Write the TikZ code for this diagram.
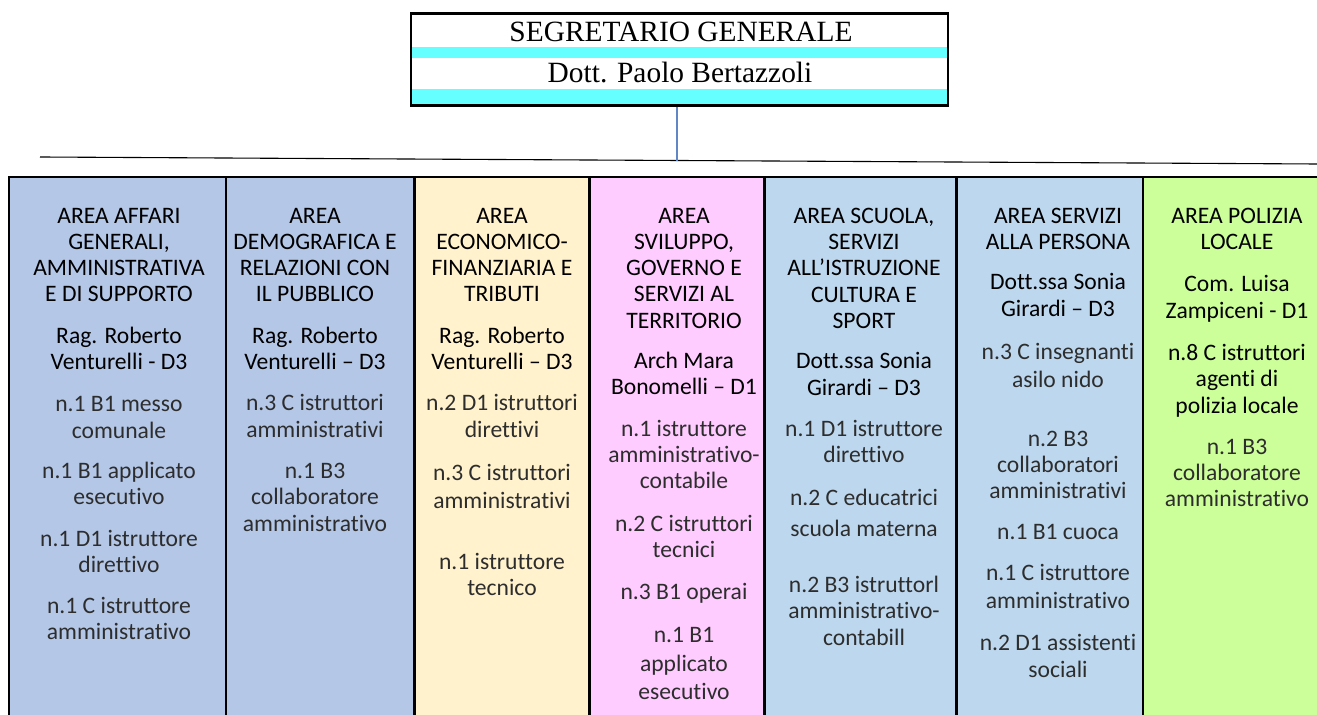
\documentclass[tikz,border=0pt]{standalone}
\usepackage{fontspec}
\setmainfont{Carlito}[RawFeature={-liga;-calt;-clig}]
\newfontfamily\timesfont{Liberation Serif}
\usepackage{xcolor}
\usetikzlibrary{positioning}

\definecolor{bluearea}{RGB}{180,199,231}
\definecolor{skyarea}{RGB}{189,215,238}
\definecolor{creamarea}{RGB}{255,242,204}
\definecolor{pinkarea}{RGB}{255,204,255}
\definecolor{limearea}{RGB}{204,255,153}
\definecolor{cyanband}{RGB}{102,255,255}
\definecolor{linkblue}{RGB}{96,134,200}
\definecolor{staffgray}{RGB}{45,45,45}

\newcommand\pers[1]{\textcolor{staffgray}{#1}}

\begin{document}
\begin{tikzpicture}
  [
    x=0.5pt, y=-0.5pt,
    area/.style={draw=black,line width=1.25pt,inner sep=0pt,outer sep=0pt,minimum height=280pt},
    arealabel/.style={anchor=north,align=center,inner sep=0pt,font=\fontsize{11.8}{13.15}\selectfont},
    topbox/.style={draw=black,line width=1.3pt,inner sep=0pt,minimum width=268.5pt,minimum height=46pt},
    toptext/.style={inner sep=0pt,font=\timesfont\fontsize{14.7}{16}\selectfont},
    link/.style={draw=linkblue,line width=0.55pt}
  ]
  \useasboundingbox (0,0) rectangle (1317,715);
  \fill[white] (0,0) rectangle (1317,715);

  % segretario generale
  \fill[cyanband] (412,47.5) rectangle (947,58);
  \fill[cyanband] (412,89) rectangle (947,104);
  \node[topbox] (sg) at (679.5,59.5) {};
  \node[toptext] (sgtitle) at (681,32) {SEGRETARIO GENERALE};
  \node[toptext] (sgname) at (680,73) {Dott. Paolo Bertazzoli};

  \coordinate (rulel) at (40,157);
  \coordinate (ruler) at (1317,164);
  \coordinate (join) at (677,161);
  \draw[line width=0.55pt] (rulel) -- (ruler);
  \draw[link] (sg.south -| join) -- (join);

  % aree
  \node[area,fill=bluearea,minimum width=108.5pt,anchor=north west] (a1) at (9,177) {};
  \node[area,fill=bluearea,minimum width=94.25pt,right=0pt of a1] (a2) {};
  \node[area,fill=creamarea,minimum width=87.5pt,right=0pt of a2] (a3) {};
  \node[area,fill=pinkarea,minimum width=87.5pt,right=0pt of a3] (a4) {};
  \node[area,fill=skyarea,minimum width=96pt,right=0pt of a4] (a5) {};
  \node[area,fill=skyarea,minimum width=93.25pt,right=0pt of a5] (a6) {};
  \node[area,fill=limearea,minimum width=95pt,right=0pt of a6] (a7) {};

  \node[arealabel] (t1) at (119,207.5) {AREA AFFARI\\GENERALI,\\AMMINISTRATIVA\\E DI SUPPORTO\\[7.5pt]
    Rag. Roberto\\Venturelli - D3\\[8pt]
    \pers{n.1 B1 messo}\\\pers{comunale}\\[7pt]
    \pers{n.1 B1 applicato}\\\pers{esecutivo}\\[7.5pt]
    \pers{n.1 D1 istruttore}\\\pers{direttivo}\\[7.5pt]
    \pers{n.1 C istruttore}\\\pers{amministrativo}};
  \node[arealabel] (t2) at (315,207.5) {AREA\\DEMOGRAFICA E\\RELAZIONI CON\\IL PUBBLICO\\[7.5pt]
    Rag. Roberto\\Venturelli – D3\\[7.5pt]
    \pers{n.3 C istruttori}\\\pers{amministrativi}\\[7.5pt]
    \pers{n.1 B3}\\\pers{collaboratore}\\\pers{amministrativo}};
  \node[arealabel] (t3) at (502,207.5) {AREA\\ECONOMICO-\\FINANZIARIA E\\TRIBUTI\\[7.5pt]
    Rag. Roberto\\Venturelli – D3\\[7.5pt]
    \pers{n.2 D1 istruttori}\\\pers{direttivi}\\[8.5pt]
    \pers{n.3 C istruttori}\\[1pt]\pers{amministrativi}\\[17pt]
    \pers{n.1 istruttore}\\\pers{tecnico}};
  \node[arealabel] (t4) at (684,207.5) {AREA\\SVILUPPO,\\GOVERNO E\\SERVIZI AL\\TERRITORIO\\[7pt]
    Arch Mara\\Bonomelli – D1\\[7.5pt]
    \pers{n.1 istruttore}\\\pers{amministrativo-}\\\pers{contabile}\\[8pt]
    \pers{n.2 C istruttori}\\\pers{tecnici}\\[8pt]
    \pers{n.3 B1 operai}\\[8.5pt]
    \pers{n.1 B1}\\[1pt]\pers{applicato}\\[1pt]\pers{esecutivo}};
  \node[arealabel] (t5) at (864,207.5) {AREA SCUOLA,\\SERVIZI\\ALL’ISTRUZIONE\\CULTURA E\\SPORT\\[7pt]
    Dott.ssa Sonia\\Girardi – D3\\[7.5pt]
    \pers{n.1 D1 istruttore}\\\pers{direttivo}\\[8.5pt]
    \pers{n.2 C educatrici}\\[2pt]\pers{scuola materna}\\[15pt]
    \pers{n.2 B3 istruttorl}\\\pers{amministrativo-}\\\pers{contabill}};
  \node[arealabel] (t6) at (1058,207.5) {AREA SERVIZI\\ALLA PERSONA\\[7pt]
    Dott.ssa Sonia\\Girardi – D3\\[8.5pt]
    \pers{n.3 C insegnanti}\\[1pt]\pers{asilo nido}\\[16pt]
    \pers{n.2 B3}\\\pers{collaboratori}\\\pers{amministrativi}\\[7.5pt]
    \pers{n.1 B1 cuoca}\\[7pt]
    \pers{n.1 C istruttore}\\[1pt]\pers{amministrativo}\\[8pt]
    \pers{n.2 D1 assistenti}\\\pers{sociali}};
  \node[arealabel] (t7) at (1237,207.5) {AREA POLIZIA\\LOCALE\\[8pt]
    Com. Luisa\\Zampiceni - D1\\[8pt]
    n.8 C istruttori\\agenti di\\polizia locale\\[7.5pt]
    \pers{n.1 B3}\\\pers{collaboratore}\\\pers{amministrativo}};
\end{tikzpicture}
\end{document}
